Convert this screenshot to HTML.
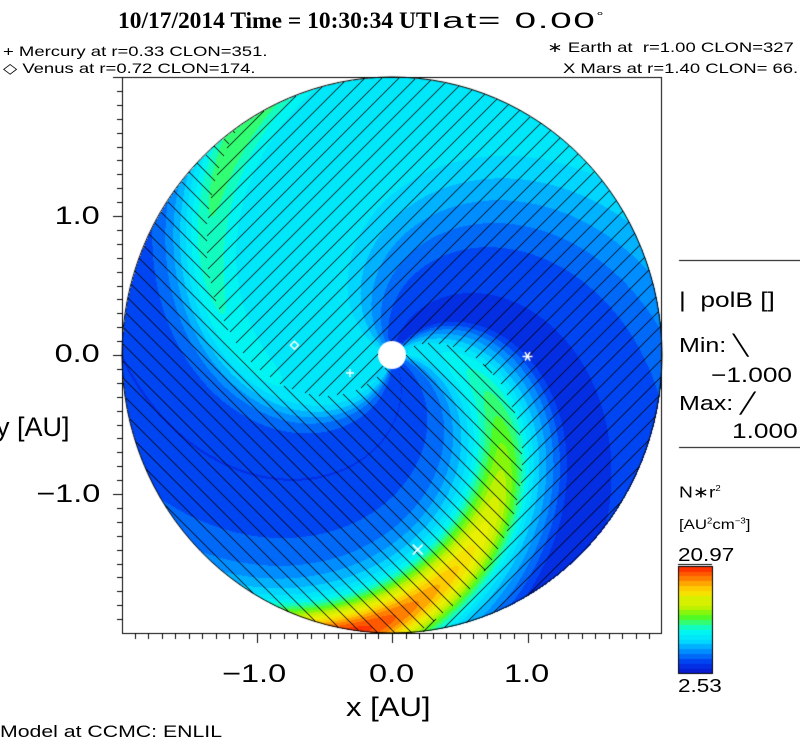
<!DOCTYPE html>
<html><head><meta charset="utf-8">
<style>
html,body{margin:0;padding:0;background:#fff;}
body{width:800px;height:746px;position:relative;overflow:hidden;font-family:"Liberation Sans",sans-serif;color:#000;}
.t{position:absolute;white-space:nowrap;line-height:1;transform-origin:left top;}
.sm{font-size:14px;transform:scaleX(1.32);}
.ax{font-size:25px;transform:scaleX(1.3);}
.r{transform-origin:right top;}
</style></head>
<body>
<div class="t" style="left:118px;top:9px;"><span style="font-family:'Liberation Serif',serif;font-weight:bold;font-size:23px;display:inline-block;transform:scaleX(1.02);transform-origin:left top;">10/17/2014 Time = 10:30:34 UT</span></div>
<div class="t" style="left:432px;top:10px;font-size:22px;letter-spacing:1px;transform:scaleX(1.75);">lat= 0.00<sup style="font-size:10px">°</sup></div>
<div class="t sm" style="left:3px;top:44px;">+ Mercury at r=0.33 CLON=351.</div>
<div class="t sm" style="left:3px;top:61px;">◇ Venus at r=0.72 CLON=174.</div>
<div class="t sm r" style="right:6px;top:40px;">∗ Earth at &nbsp;r=1.00 CLON=327</div>
<div class="t sm r" style="right:2px;top:61px;">X Mars at r=1.40 CLON= 66.</div>

<canvas id="cv" width="800" height="746" style="position:absolute;left:0;top:0;"></canvas>

<div class="t ax r" style="right:700px;top:204px;">1.0</div>
<div class="t ax r" style="right:700px;top:342px;">0.0</div>
<div class="t ax r" style="right:700px;top:482px;">−1.0</div>
<div class="t" style="left:-4px;top:414px;font-size:27px;">y [AU]</div>
<div class="t ax" style="left:222px;top:662px;">−1.0</div>
<div class="t ax" style="left:369px;top:662px;">0.0</div>
<div class="t ax" style="left:504px;top:662px;">1.0</div>
<div class="t" style="left:346px;top:694px;font-size:27px;transform:scaleX(1.15);">x [AU]</div>
<div class="t" style="left:0px;top:723px;font-size:17px;transform:scaleX(1.25);">Model at CCMC: ENLIL</div>

<div class="t" style="left:679px;top:290px;font-size:21px;transform:scaleX(1.25);">| &nbsp;polB []</div>
<div class="t" style="left:679px;top:336px;font-size:20px;transform:scaleX(1.25);">Min: ╲</div>
<div class="t" style="left:711px;top:365px;font-size:21px;transform:scaleX(1.25);">−1.000</div>
<div class="t" style="left:679px;top:394px;font-size:20px;transform:scaleX(1.25);">Max: ╱</div>
<div class="t" style="left:732px;top:421px;font-size:21px;transform:scaleX(1.25);">1.000</div>
<div class="t" style="left:679px;top:485px;font-size:16px;transform:scaleX(1.2);">N∗r<sup style="font-size:8px">2</sup></div>
<div class="t" style="left:679px;top:517px;font-size:14px;transform:scaleX(1.2);">[AU<sup style="font-size:8px">2</sup>cm<sup style="font-size:8px">−3</sup>]</div>
<div class="t" style="left:678px;top:546px;font-size:18px;transform:scaleX(1.25);">20.97</div>
<div class="t" style="left:678px;top:677px;font-size:18px;transform:scaleX(1.25);">2.53</div>

<script>
// ---- data ----
const psiKnots   = [0,   10,  35,  50,  60,  100, 130, 160, 230, 245, 255, 270, 300, 340, 360];
const psiValues  = [0.28,0.34,0.30,0.20,0.08,0.10,0.20,0.32,0.34,0.36,0.28,0.14,0.09,0.15,0.28];
const armCenters = [22, 242];
const armWidths  = [10, 8];
const armBase    = [0.30, 0.30];
const armLin     = [0.14, 0.06];
const armQuad    = [0.10, 0.02];
const sectorBounds = [35, 245];
const planetNames = ['mercury','venus','earth','mars'];
const planetX = [-0.31, -0.72, 1.00, 0.19];
const planetY = [-0.13, 0.07, -0.01, -1.40];
const xTicks = [-1, 0, 1];
const yTicks = [-1, 0, 1];
const cmapPos = [0,0.1,0.2,0.3,0.4,0.46,0.53,0.62,0.72,0.8,0.88,1];
const cmapR = [10,0,0,0,0,40,90,200,240,255,255,255];
const cmapG = [20,60,140,220,250,255,250,240,240,200,130,30];
const cmapB = [200,240,255,255,240,140,20,0,0,0,0,0];

// ---- geometry ----
const CX=392, CY=355, SX=135.5, SY=139, BL=122, BR=661, BT=77, BB=633;
const K=60;
const px=x=>CX+x*SX, py=y=>CY-y*SY;
function interp(p){p=((p%360)+360)%360;for(let i=0;i<psiKnots.length-1;i++){if(p>=psiKnots[i]&&p<=psiKnots[i+1]){const t=(p-psiKnots[i])/(psiKnots[i+1]-psiKnots[i]);return psiValues[i]+t*(psiValues[i+1]-psiValues[i]);}}return psiValues[0];}
function angDiff(a,b){return ((a-b)%360+540)%360-180;}
function field(X,Y){const r=Math.hypot(X,Y);const phi=Math.atan2(Y,X)*180/Math.PI;const psi=phi+K*r;let v=interp(psi);
 for(let i=0;i<armCenters.length;i++){const d=angDiff(psi,armCenters[i]);const amp=armBase[i]+armLin[i]*r+armQuad[i]*r*r;const g=Math.exp(-d*d/(2*armWidths[i]*armWidths[i]));v=v+(amp-v)*g;}
 return {v:Math.min(1,Math.max(0,v)),psi:((psi%360)+360)%360};}
function cmap(v){v=Math.floor(v*22)/22+0.02;v=Math.min(1,v);for(let i=0;i<cmapPos.length-1;i++){if(v<=cmapPos[i+1]){const t=(v-cmapPos[i])/(cmapPos[i+1]-cmapPos[i]);return [cmapR[i]+t*(cmapR[i+1]-cmapR[i]),cmapG[i]+t*(cmapG[i+1]-cmapG[i]),cmapB[i]+t*(cmapB[i+1]-cmapB[i])];}}return [255,30,0];}

const cv=document.getElementById('cv'),ctx=cv.getContext('2d');
const img=ctx.createImageData(800,746);
for(let y=BT;y<=BB;y++)for(let x=BL;x<=BR;x++){const ex=(x-CX)/270,ey=(y-CY)/278;if(ex*ex+ey*ey>1)continue;
 const X=(x-CX)/SX,Y=(CY-y)/SY;const f=field(X,Y);let c=cmap(f.v);
 const pos=f.psi>=sectorBounds[0]&&f.psi<sectorBounds[1];
 const m=pos?((x+y)%17):(((x-y)%17)+17)%17;
 if(m===0)c=[0,0,0];
 const k=(y*800+x)*4;img.data[k]=c[0];img.data[k+1]=c[1];img.data[k+2]=c[2];img.data[k+3]=255;}
ctx.putImageData(img,0,0);
ctx.strokeStyle='#000';ctx.lineWidth=1;ctx.beginPath();ctx.ellipse(CX,CY,270,278,0,0,Math.PI*2);ctx.stroke();
ctx.fillStyle='#fff';ctx.beginPath();ctx.arc(CX,CY,14,0,Math.PI*2);ctx.fill();
ctx.strokeRect(BL+0.5,BT+0.5,BR-BL,BB-BT);
ctx.beginPath();
for(let i=-20;i<=20;i++){const x=Math.round(px(i/10))+0.5;if(x<BL||x>BR)continue;const L=(i%10===0)?10:6;ctx.moveTo(x,BB);ctx.lineTo(x,BB+L);}
for(let i=-20;i<=20;i++){const y=Math.round(py(i/10))+0.5;if(y<BT||y>BB)continue;const L=(i%10===0)?9:5;ctx.moveTo(BL,y);ctx.lineTo(BL-L,y);}
ctx.stroke();
ctx.strokeStyle='#fff';ctx.lineWidth=1.5;
planetNames.forEach((n,i)=>{const x=px(planetX[i]),y=py(planetY[i]);ctx.beginPath();
 if(n==='mercury'){ctx.moveTo(x-4,y);ctx.lineTo(x+4,y);ctx.moveTo(x,y-4);ctx.lineTo(x,y+4);}
 else if(n==='venus'){ctx.moveTo(x,y-4);ctx.lineTo(x+4,y);ctx.lineTo(x,y+4);ctx.lineTo(x-4,y);ctx.closePath();}
 else if(n==='earth'){for(let a=0;a<3;a++){const t=a*Math.PI/3;ctx.moveTo(x-5*Math.cos(t),y-5*Math.sin(t));ctx.lineTo(x+5*Math.cos(t),y+5*Math.sin(t));}}
 else {ctx.moveTo(x-5,y-5);ctx.lineTo(x+5,y+5);ctx.moveTo(x+5,y-5);ctx.lineTo(x-5,y+5);}
 ctx.stroke();});
ctx.strokeStyle='#000';ctx.lineWidth=1;ctx.beginPath();ctx.moveTo(679,260.5);ctx.lineTo(800,260.5);ctx.moveTo(679,447.5);ctx.lineTo(800,447.5);ctx.moveTo(678,564.5);ctx.lineTo(712,564.5);ctx.stroke();
const nb=22,cbT=566,cbB=673;
for(let i=0;i<nb;i++){const c=cmap(i/nb);ctx.fillStyle=`rgb(${c[0]|0},${c[1]|0},${c[2]|0})`;const y0=cbB-(i+1)*(cbB-cbT)/nb;ctx.fillRect(679,Math.floor(y0),34,Math.ceil((cbB-cbT)/nb)+1);}
ctx.strokeRect(678.5,cbT+0.5,34,cbB-cbT);
</script>
</body></html>
